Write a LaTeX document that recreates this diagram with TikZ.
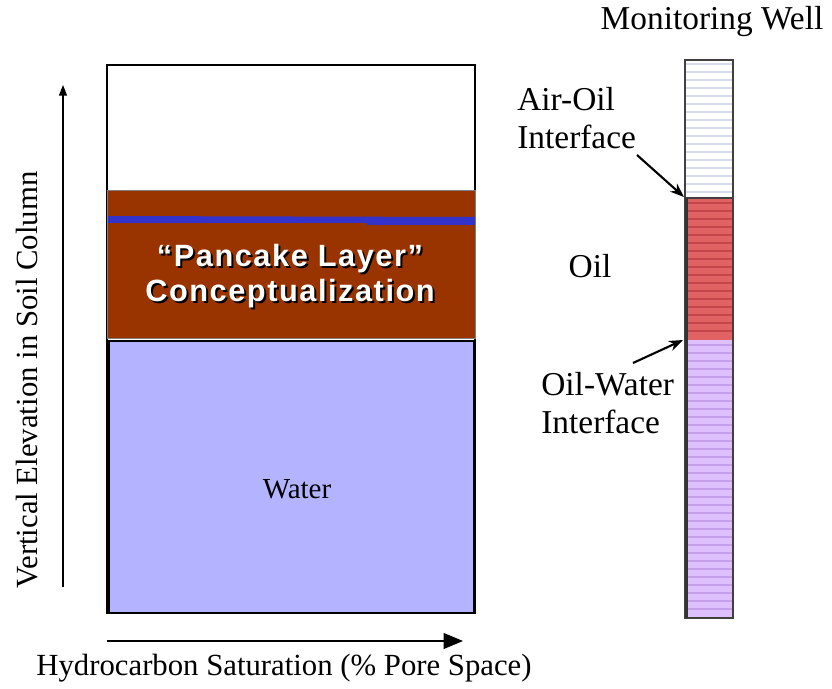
\documentclass[tikz,border=0pt]{standalone}
\usepackage{fontspec}
\setmainfont{Liberation Serif}
\newfontfamily\pancakefont[LetterSpace=5]{Liberation Sans}
\usetikzlibrary{arrows.meta}

\definecolor{pancake}{RGB}{153,51,0}
\definecolor{waterblue}{RGB}{179,179,255}
\definecolor{lensblue}{RGB}{51,51,204}
\definecolor{wellair}{RGB}{214,220,234}
\definecolor{welloil}{RGB}{224,98,98}
\definecolor{welloilline}{RGB}{196,70,74}
\definecolor{wellwater}{RGB}{222,192,255}
\definecolor{wellwaterline}{RGB}{196,160,236}

\begin{document}
\begin{tikzpicture}[x=0.02cm, y=-0.02cm,
  label/.style={font=\fontsize{19}{21.5}\selectfont, inner sep=0pt},
  axislabel/.style={font=\fontsize{17.5}{20}\selectfont, inner sep=0pt},
  axis/.style={line width=0.8pt},
  callout/.style={line width=1.2pt, -{Stealth[length=8pt,width=6pt]}},
  pancaketext/.style={font=\pancakefont\bfseries\fontsize{17.5}{20}\selectfont, align=center, inner sep=0pt}]
  \useasboundingbox (0,0) rectangle (832,689);

  % soil column
  \draw[line width=0.8pt] (107,65) rectangle (475,613);
  \filldraw[fill=pancake, draw=gray] (107,190) rectangle (475,338);
  \fill[lensblue] (108,216) -- (475,217) -- (475,225) -- (367,225) -- (367,223) -- (108,223) -- cycle;
  \draw[fill=waterblue, line width=0.8pt] (109,341) rectangle (474,613);
  \node[pancaketext, black] (pancakeshadow) at (292,278) {“Pancake Layer”\\Conceptualization};
  \node[pancaketext, white] (pancake) at (290,276) {“Pancake Layer”\\Conceptualization};
  \node[font=\fontsize{16.5}{19}\selectfont] (water) at (297,489) {Water};

  % axes
  \coordinate (ybottom) at (63,587);
  \coordinate (ytop) at (63,85);
  \coordinate (xleft) at (107,641);
  \coordinate (xright) at (463,641);
  \draw[axis, -{Triangle[length=6pt,width=4.5pt]}] (ybottom) -- (ytop);
  \draw[axis, -{Triangle[length=11pt,width=9pt]}] (xleft) -- (xright);
  \node[axislabel, rotate=90] (ylabel) at (27,380) {Vertical Elevation in Soil Column};
  \node[axislabel] (xlabel) at (284,668) {Hydrocarbon Saturation (\% Pore Space)};

  % monitoring well
  \fill[white] (685,60) rectangle (733,198);
  \foreach \y in {64,72,...,196}
    \draw[wellair, line width=0.6pt] (686,\y) -- (732,\y);
  \fill[welloil] (685,198) rectangle (733,340);
  \foreach \y in {203,211,...,338}
    \draw[welloilline, line width=0.8pt] (686,\y) -- (732,\y);
  \fill[wellwater] (685,340) rectangle (733,618);
  \foreach \y in {345,353,...,616}
    \draw[wellwaterline, line width=0.8pt] (686,\y) -- (732,\y);
  \draw[black!75, line width=1.1pt] (685,198) -- (733,198);
  \draw[black!75, line width=1.2pt] (685,60) rectangle (733,618);
  \draw[black!80, line width=1.2pt] (686.5,198) -- (686.5,618);
  \coordinate (airoil) at (684,197);
  \coordinate (oilwater) at (683,340);

  % labels
  \node[label] (welltitle) at (712,22) {Monitoring Well};
  \node[label, align=left, anchor=west] (airoiltext) at (517,118) {Air-Oil\\Interface};
  \node[label] (oiltext) at (590,266) {Oil};
  \node[label, align=left, anchor=west] (oilwatertext) at (541,403) {Oil-Water\\Interface};
  \coordinate (airoilstart) at (637,155);
  \coordinate (oilwaterstart) at (633,363);
  \draw[callout] (airoilstart) -- (airoil);
  \draw[callout] (oilwaterstart) -- (oilwater);
\end{tikzpicture}
\end{document}
